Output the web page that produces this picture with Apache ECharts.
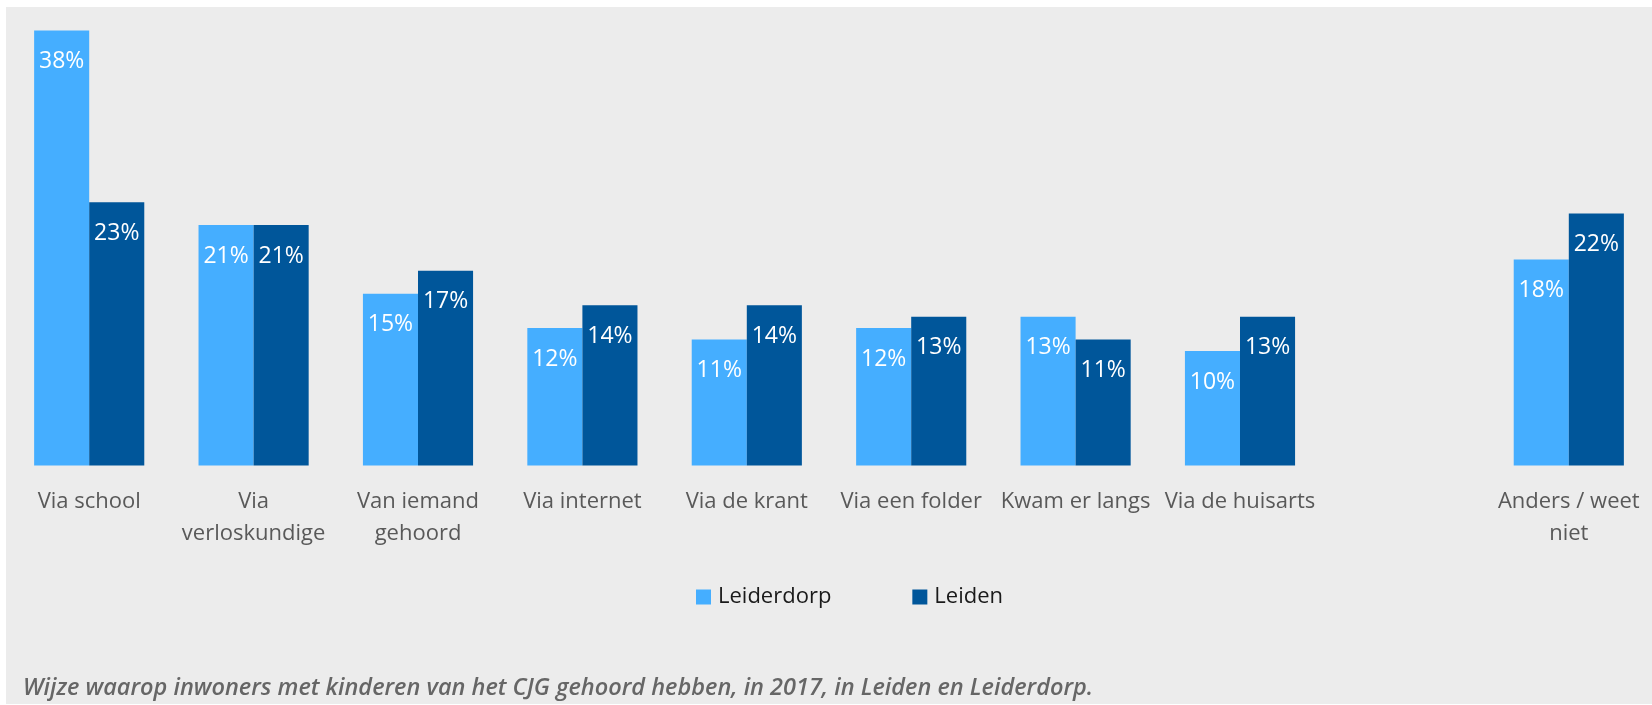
<!DOCTYPE html>
<html>
<head>
<meta charset="utf-8">
<script src="https://cdn.jsdelivr.net/npm/echarts@6/dist/echarts.min.js"></script>
<style>
	html, body {
		margin: 0;
		padding: 0;
		background: #fff;
	}
	.panel {
		position: absolute;
		left: 6px;
		top: 7px;
		width: 1646px;
		height: 697px;
		background: #ececec;
	}
	#chart {
		position: absolute;
		left: 0;
		top: 0;
		width: 1652px;
		height: 705px;
	}
</style>
</head>
<body>
<div class="panel"></div>
<div id="chart"></div>
<script>
// Categories (one empty slot before "Anders / weet niet")
const categories = [
	'Via school',
	'Via\nverloskundige',
	'Van iemand\ngehoord',
	'Via internet',
	'Via de krant',
	'Via een folder',
	'Kwam er langs',
	'Via de huisarts',
	'',
	'Anders / weet\nniet'
]

const leiderdorpValues = [38, 21, 15, 12, 11, 12, 13, 10, '-', 18]
const leidenValues = [23, 21, 17, 14, 14, 13, 11, 13, '-', 22]

const seriesNames = ['Leiderdorp', 'Leiden']
const captionText = 'Wijze waarop inwoners met kinderen van het CJG gehoord hebben, in 2017, in Leiden en Leiderdorp.'

const FONT = '"Open Sans", "Noto Sans", sans-serif'

const chart = echarts.init(document.getElementById('chart'))

const barLabel = {
	show: true,
	position: 'insideTop',
	distance: 19,
	color: '#fff',
	fontFamily: FONT,
	fontSize: 23,
	lineHeight: 24,
	formatter: '{c}%'
}

const option = {
	backgroundColor: 'transparent',
	animation: false,
	title: {
		text: captionText,
		left: 23,
		top: 677,
		padding: 0,
		textStyle: {
			fontFamily: FONT,
			fontSize: 23.5,
			fontStyle: 'italic',
			fontWeight: 600,
			color: '#666666'
		}
	},
	legend: {
		data: seriesNames,
		left: 691,
		top: 581,
		itemWidth: 15,
		itemHeight: 15,
		itemGap: 81,
		icon: 'rect',
		textStyle: {
			fontFamily: FONT,
			fontSize: 22,
			color: '#1a1a1a',
			padding: [0, 0, 0, 2]
		}
	},
	grid: {
		left: 7,
		right: 1,
		top: 7.5,
		bottom: 239.5,
		containLabel: false
	},
	xAxis: {
		type: 'category',
		data: categories,
		axisLine: { show: false },
		axisTick: { show: false },
		axisLabel: {
			interval: 0,
			margin: 20,
			color: '#595959',
			fontFamily: FONT,
			fontSize: 22,
			lineHeight: 32
		}
	},
	yAxis: {
		type: 'value',
		min: 0,
		max: 40,
		show: false,
		splitLine: { show: false }
	},
	series: [
		{
			name: seriesNames[0],
			type: 'bar',
			data: leiderdorpValues,
			barGap: '0%',
			barCategoryGap: '33%',
			itemStyle: { color: '#45aeff' },
			label: barLabel
		},
		{
			name: seriesNames[1],
			type: 'bar',
			data: leidenValues,
			itemStyle: { color: '#00569a' },
			label: barLabel
		}
	]
}

chart.setOption(option)
</script>
</body>
</html>
